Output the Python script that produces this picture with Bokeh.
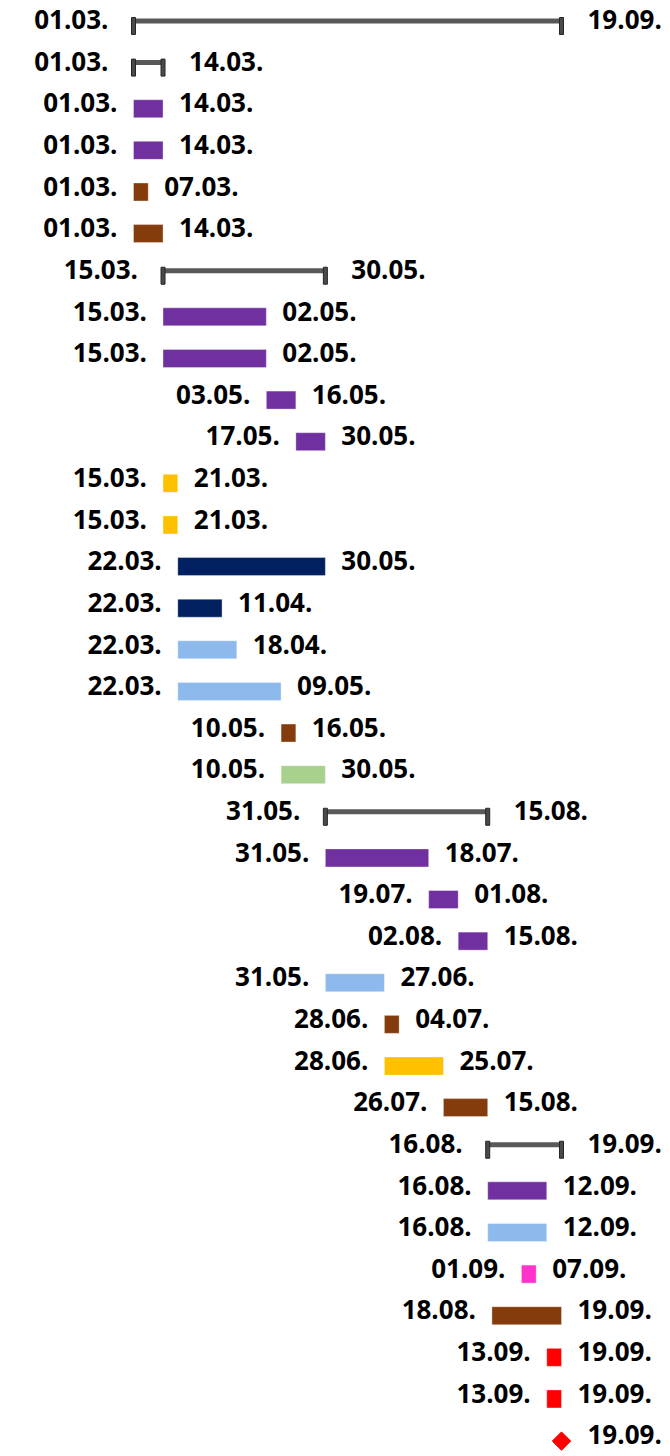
from datetime import date
from bokeh.plotting import figure
from bokeh.models import Range1d, ColumnDataSource
from bokeh.core.properties import value
from bokeh.embed import file_html
from bokeh.resources import INLINE

# ---------------- data ----------------
starts = ["01.03.", "01.03.", "01.03.", "01.03.", "01.03.", "01.03.",
          "15.03.", "15.03.", "15.03.", "03.05.", "17.05.", "15.03.", "15.03.",
          "22.03.", "22.03.", "22.03.", "22.03.", "10.05.", "10.05.",
          "31.05.", "31.05.", "19.07.", "02.08.", "31.05.", "28.06.", "28.06.", "26.07.",
          "16.08.", "16.08.", "16.08.", "01.09.", "18.08.", "13.09.", "13.09.", "19.09."]
ends = ["19.09.", "14.03.", "14.03.", "14.03.", "07.03.", "14.03.",
        "30.05.", "02.05.", "02.05.", "16.05.", "30.05.", "21.03.", "21.03.",
        "30.05.", "11.04.", "18.04.", "09.05.", "16.05.", "30.05.",
        "15.08.", "18.07.", "01.08.", "15.08.", "27.06.", "04.07.", "25.07.", "15.08.",
        "19.09.", "12.09.", "12.09.", "07.09.", "19.09.", "19.09.", "19.09.", "19.09."]
kinds = ["summary", "summary", "purple", "purple", "brown", "brown",
         "summary", "purple", "purple", "purple", "purple", "yellow", "yellow",
         "navy", "navy", "lightblue", "lightblue", "brown", "green",
         "summary", "purple", "purple", "purple", "lightblue", "brown", "yellow", "brown",
         "summary", "purple", "lightblue", "pink", "brown", "red", "red", "milestone"]

colors = {"purple": "#7030A0", "brown": "#843C0C", "yellow": "#FFC000",
          "navy": "#002060", "lightblue": "#8DB9EC", "green": "#A9D18E",
          "pink": "#FF33CC", "red": "#FF0000", "summary": "#595959",
          "milestone": "#FF0000"}

# ---------------- helpers ----------------
ORIGIN = date(2021, 3, 1)


def day(s):
    d, m = s.strip(".").split(".")
    return (date(2021, int(m), int(d)) - ORIGIN).days


ROW_PX = 41.62
PX_PER_DAY = 428 / 203


def px(v):  # vertical pixel offset -> data units
    return v / ROW_PX


rows = list(range(len(kinds)))
s_day = [day(s) for s in starts]
e_day = [day(e) + 1 for e in ends]

# ---------------- figure ----------------
W, H = 670, 1456
x0 = -133 / PX_PER_DAY
y0 = -19.5 / ROW_PX
p = figure(width=W, height=H, output_backend="svg", toolbar_location=None,
           x_range=Range1d(x0, x0 + W / PX_PER_DAY),
           y_range=Range1d(y0 + H / ROW_PX, y0),
           min_border=0, outline_line_color=None)
p.axis.visible = False
p.grid.visible = False
p.background_fill_color = "white"
p.border_fill_color = "white"

# task bars
task_idx = [i for i, k in enumerate(kinds) if k not in ("summary", "milestone")]
tsrc = ColumnDataSource(dict(
    left=[s_day[i] for i in task_idx],
    right=[e_day[i] for i in task_idx],
    top=[rows[i] - px(3.5) for i in task_idx],
    bottom=[rows[i] + px(14.5) for i in task_idx],
    color=[colors[kinds[i]] for i in task_idx]))
p.quad(left="left", right="right", top="top", bottom="bottom", source=tsrc,
       fill_color="color", line_color="white", line_alpha=0.35, line_width=1)

# summary bars
sum_idx = [i for i, k in enumerate(kinds) if k == "summary"]
ssrc = ColumnDataSource(dict(
    left=[s_day[i] for i in sum_idx],
    right=[e_day[i] for i in sum_idx],
    top=[rows[i] - px(1.5) for i in sum_idx],
    bottom=[rows[i] + px(3.5) for i in sum_idx]))
p.quad(left="left", right="right", top="top", bottom="bottom", source=ssrc,
       fill_color="#595959", line_color=None)
cap_x = [s_day[i] for i in sum_idx] + [e_day[i] for i in sum_idx]
cap_y = [rows[i] + px(6) for i in sum_idx] * 2
p.rect(x=cap_x, y=cap_y, width=4, height=17, width_units="screen",
       height_units="screen", fill_color="#4a4a4a", line_color="#262626",
       line_width=1)

# milestone
ms_idx = [i for i, k in enumerate(kinds) if k == "milestone"]
p.scatter(x=[e_day[i] for i in ms_idx], y=[rows[i] + px(6) for i in ms_idx],
          marker="square", angle=0.785398, size=13, fill_color="#FF0000",
          line_color="#E00000", line_width=1)

# labels
font = value("Open Sans")
base = px(-0.3)
lab_s_idx = [i for i, k in enumerate(kinds) if k != "milestone"]
p.text(x=[s_day[i] for i in lab_s_idx], y=[rows[i] + base for i in lab_s_idx],
       text=[starts[i] for i in lab_s_idx],
       x_offset=[-25 if kinds[i] == "summary" else -16 for i in lab_s_idx],
       text_align="right", text_baseline="alphabetic", text_font=font,
       text_font_style="bold", text_font_size="26px", text_color="black")
p.text(x=e_day, y=[r + base for r in rows], text=ends,
       x_offset=[26 if k in ("summary", "milestone") else 16 for k in kinds],
       text_align="left", text_baseline="alphabetic", text_font=font,
       text_font_style="bold", text_font_size="26px", text_color="black")

open("out.html", "w").write(file_html(p, INLINE))
